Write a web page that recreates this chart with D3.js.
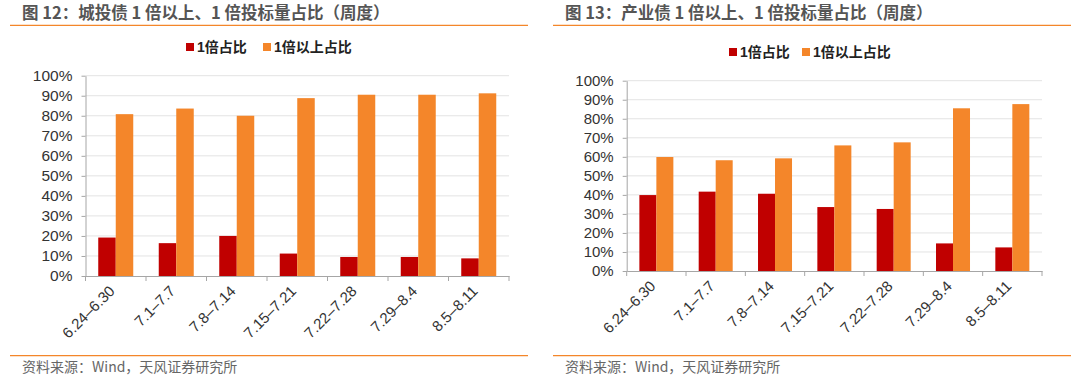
<!DOCTYPE html>
<html><head><meta charset="utf-8">
<script src="https://cdn.jsdelivr.net/npm/d3@7"></script>
<style>
html,body{margin:0;padding:0;background:#fff;}
svg{display:block;font-family:"Liberation Sans","Noto Sans CJK SC",sans-serif;}
</style></head>
<body><svg id="c" width="1080" height="382"></svg>
<script>
const categories = ["6.24–6.30","7.1–7.7","7.8–7.14","7.15–7.21","7.22–7.28","7.29–8.4","8.5–8.11"];
const seriesNames = ["1倍占比","1倍以上占比"];
const chengtou1x = [19.2,16.4,20.0,11.2,9.5,9.5,8.8];
const chengtouAbove = [80.8,83.6,80.0,88.8,90.5,90.5,91.2];
const chanye1x = [39.9,41.7,40.6,33.6,32.6,14.5,12.4];
const chanyeAbove = [59.9,58.2,59.2,66.0,67.6,85.5,87.7];
const yTicks = [0,10,20,30,40,50,60,70,80,90,100];
const titles = ["图 12：城投债 1 倍以上、1 倍投标量占比（周度）","图 13：产业债 1 倍以上、1 倍投标量占比（周度）"];
const source = "资料来源：Wind，天风证券研究所";
const colors = ["#C00000","#F4862A"];

const svg = d3.select("#c");

function panel(cfg){
  const g = svg.append("g");
  // title
  g.append("text").attr("x",cfg.titleX).attr("y",19).attr("font-size",16.5).attr("font-weight","bold")
    .attr("fill","#555").attr("font-family","'Noto Sans CJK SC',sans-serif").text(cfg.title);
  g.append("line").attr("x1",cfg.lineX1).attr("x2",cfg.lineX2).attr("y1",25.3).attr("y2",25.3)
    .attr("stroke","#F4862A").attr("stroke-width",1.3);
  // footer
  g.append("line").attr("x1",cfg.lineX1).attr("x2",cfg.lineX2).attr("y1",355.7).attr("y2",355.7)
    .attr("stroke","#F4862A").attr("stroke-width",1.3);
  g.append("text").attr("x",cfg.titleX).attr("y",372).attr("font-size",14)
    .attr("fill","#666").attr("font-family","'Noto Sans CJK SC',sans-serif").text(source);

  const x = d3.scaleBand().domain(categories).range([cfg.x0,cfg.x1]);
  const y = d3.scaleLinear().domain([0,100]).range([cfg.y0,cfg.y1]);
  const inner = d3.scaleBand().domain([0,1]).range([0,cfg.barW*2]);

  // gridlines
  g.append("g").selectAll("line").data(yTicks.filter(d=>d>0)).join("line")
    .attr("x1",cfg.x0).attr("x2",cfg.x1).attr("y1",d=>y(d)).attr("y2",d=>y(d))
    .attr("stroke","#e3e3e3").attr("stroke-width",1);

  // bars
  const data = categories.map((c,i)=>({c,vals:[cfg.s1[i],cfg.s2[i]]}));
  const grp = g.append("g").selectAll("g").data(data).join("g")
    .attr("transform",d=>`translate(${x(d.c)+x.bandwidth()/2-cfg.barW},0)`);
  grp.selectAll("rect").data(d=>d.vals.map((v,k)=>({v,k}))).join("rect")
    .attr("x",d=>inner(d.k)).attr("width",inner.bandwidth())
    .attr("y",d=>y(d.v)).attr("height",d=>y(0)-y(d.v))
    .attr("fill",d=>colors[d.k]);

  // y axis
  const ya = g.append("g").attr("transform",`translate(${cfg.x0},0)`)
    .call(d3.axisLeft(y).tickValues(yTicks).tickFormat(d=>d+"%").tickSize(4).tickSizeOuter(0));
  ya.select(".domain").attr("stroke","#a6a6a6");
  ya.selectAll(".tick line").attr("stroke","#a6a6a6");
  ya.selectAll(".tick text").attr("font-size",cfg.yFont).attr("fill","#333").attr("x",-cfg.yGap)
    .attr("font-family","'Liberation Sans',sans-serif");

  // x axis
  const xa = g.append("g").attr("transform",`translate(0,${cfg.y0})`)
    .call(d3.axisBottom(x).tickSize(0).tickSizeOuter(0).tickFormat(""));
  xa.select(".domain").attr("stroke","#a6a6a6");
  xa.selectAll(".tick").remove();
  const bounds = categories.map(c=>x(c)).concat([cfg.x1]);
  xa.append("g").selectAll("line").data(bounds).join("line")
    .attr("x1",d=>d).attr("x2",d=>d).attr("y1",0).attr("y2",5).attr("stroke","#a6a6a6");
  xa.append("g").selectAll("text").data(categories).join("text")
    .attr("transform",d=>`translate(${x(d)+x.bandwidth()/2+cfg.labDx},${cfg.labDy}) rotate(-45)`)
    .attr("text-anchor","end").attr("font-size",15).attr("fill","#333")
    .attr("font-family","'Liberation Sans',sans-serif").text(d=>d);

  // legend
  const lg = g.append("g");
  seriesNames.forEach((n,k)=>{
    lg.append("rect").attr("x",cfg.legX[k]).attr("y",cfg.legY-4).attr("width",8).attr("height",8).attr("fill",colors[k]);
    lg.append("text").attr("x",cfg.legX[k]+11).attr("y",cfg.legY+5).attr("font-size",14).attr("font-weight","bold")
      .attr("fill","#222").attr("font-family","'Liberation Sans','Noto Sans CJK SC',sans-serif").text(n);
  });
}

panel({title:titles[0],titleX:22,lineX1:10,lineX2:528,x0:85.5,x1:509,y0:276,y1:75.7,barW:17.5,
  s1:chengtou1x,s2:chengtouAbove,labDx:0,labDy:16,legX:[186,263],legY:47,yFont:15.5,yGap:13});
panel({title:titles[1],titleX:565,lineX1:553,lineX2:1071,x0:626.7,x1:1042,y0:271,y1:80.7,barW:17,
  s1:chanye1x,s2:chanyeAbove,labDx:0,labDy:16,legX:[729,802],legY:52,yFont:15,yGap:13});
</script></body></html>
